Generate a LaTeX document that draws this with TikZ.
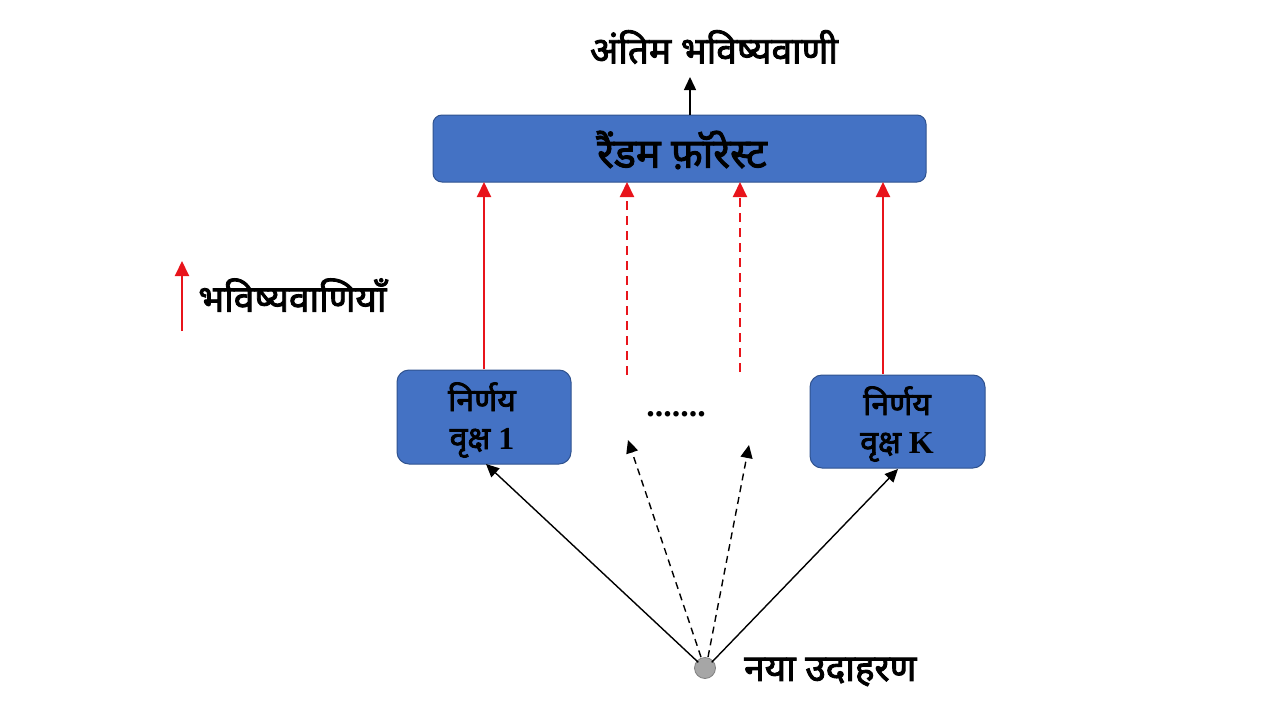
\documentclass[tikz,border=0pt]{standalone}
\usepackage{fontspec}
\setmainfont{Liberation Serif}
\newfontfamily\dev[Script=Devanagari,FakeBold=2.4]{Noto Sans}
\usetikzlibrary{arrows.meta}
\definecolor{boxblue}{HTML}{4472C4}
\definecolor{boxedge}{HTML}{2F528F}
\definecolor{predred}{HTML}{E8141B}
\definecolor{dotgrey}{HTML}{A6A6A6}
\tikzset{
  rfbox/.style={draw=boxedge,line width=1pt,fill=boxblue,rounded corners=9pt,inner sep=0pt},
  treebox/.style={draw=boxedge,line width=1pt,fill=boxblue,rounded corners=12pt,inner sep=0pt,align=center},
  redarrow/.style={draw=predred,line width=2pt,-{Triangle[length=15pt,width=14pt]}},
  blkarrow/.style={draw=black,line width=1.4pt,-{Triangle[length=13pt,width=12pt]}},
  lbl/.style={font=\dev\fontsize{37}{42}\selectfont,inner sep=0pt},
  treelbl/.style={font=\bfseries\fontsize{32}{38}\selectfont,align=center,inner sep=0pt}
}
\begin{document}
\begin{tikzpicture}[x=1pt,y=-1pt]
\useasboundingbox (0,0) rectangle (1280,720);
% Random forest box
\node[rfbox,minimum width=493pt,minimum height=67pt] (rf) at (679.5,148.5) {};
\node[lbl,font=\dev\fontsize{41}{46}\selectfont] (rft) at (682,150) {रैंडम फ़ॉरेस्ट};
% final prediction
\node[lbl] (final) at (714,47) {अंतिम भविष्यवाणी};
\coordinate (rftop) at (690,115);
\coordinate (finalb) at (690,77);
\draw[blkarrow] (rftop) -- (finalb);
% tree boxes
\node[treebox,minimum width=174pt,minimum height=94pt] (t1) at (484,417) {};
\node[treelbl] (t1t) at (482,420) {{\dev निर्णय}\\{\dev वृक्ष} 1};
\node[treebox,minimum width=175pt,minimum height=93pt] (tk) at (897.5,421.5) {};
\node[treelbl] (tkt) at (897,424) {{\dev निर्णय}\\{\dev वृक्ष} K};
% red arrows
\coordinate (r1s) at (484,369);
\coordinate (r1e) at (484,182);
\coordinate (r2s) at (627,375);
\coordinate (r2e) at (627,182);
\coordinate (r3s) at (740,372);
\coordinate (r3e) at (740,182);
\coordinate (r4s) at (883,374);
\coordinate (r4e) at (883,182);
\draw[redarrow] (r1s) -- (r1e);
\draw[redarrow,dash pattern=on 9pt off 6pt] (r2s) -- (r2e);
\draw[redarrow,dash pattern=on 9pt off 6pt] (r3s) -- (r3e);
\draw[redarrow] (r4s) -- (r4e);
% dots
\node[font=\bfseries\fontsize{34}{36}\selectfont,inner sep=0pt] (dots) at (676,414) {.......};
% legend
\coordinate (ls) at (182,331);
\coordinate (le) at (182,261);
\draw[redarrow] (ls) -- (le);
\node[lbl,anchor=west] (leg) at (198,295) {भविष्यवाणियाँ};
% new example
\node[circle,draw=gray,line width=0.8pt,fill=dotgrey,minimum size=21pt,inner sep=0pt] (ex) at (705,668) {};
\node[lbl,anchor=west] (exl) at (744,672) {नया उदाहरण};
\coordinate (t1in) at (486,464);
\coordinate (tkin) at (898,469);
\coordinate (d1) at (628,440);
\coordinate (d2) at (749,445);
\draw[blkarrow] (ex.north west) ++(1,2) coordinate (exa) (exa) -- (t1in);
\draw[blkarrow] (ex.north east) ++(-1,2) coordinate (exb) (exb) -- (tkin);
\draw[blkarrow,dash pattern=on 7pt off 5pt] (ex.north) ++(-4,0) coordinate (exc) (exc) -- (d1);
\draw[blkarrow,dash pattern=on 7pt off 5pt] (ex.north) ++(3,0) coordinate (exd) (exd) -- (d2);
\end{tikzpicture}
\end{document}
